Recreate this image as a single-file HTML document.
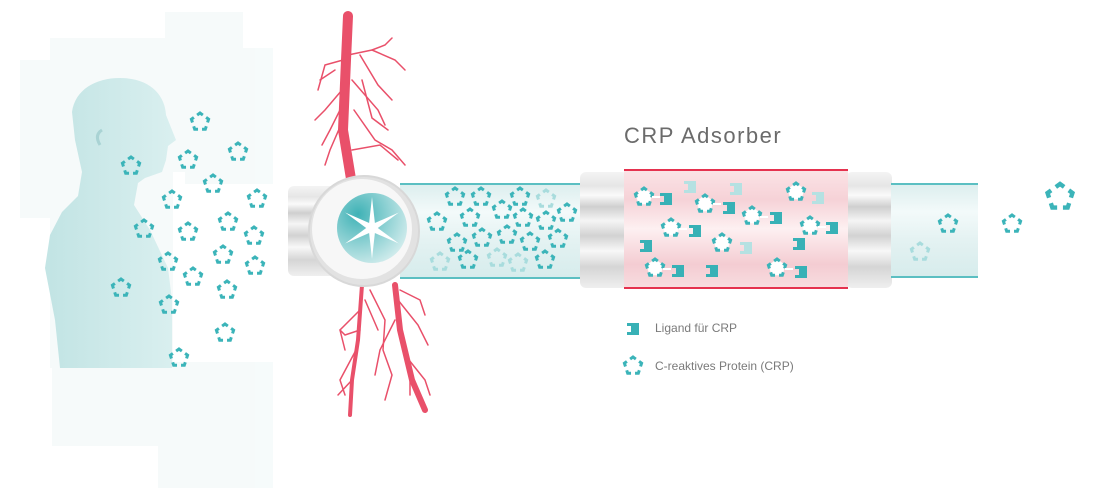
<!DOCTYPE html>
<html><head><meta charset="utf-8"><style>
html,body{margin:0;padding:0;background:#fff;}
svg{display:block}
text{font-family:"Liberation Sans",sans-serif}
</style></head><body>
<svg width="1096" height="500" viewBox="0 0 1096 500" xmlns="http://www.w3.org/2000/svg">
<defs>
<g id="p"><polygon points="0,-9 8.6,-2.8 5.3,7.3 -5.3,7.3 -8.6,-2.8" fill="none" stroke="#3bb4b9" stroke-width="3" stroke-dasharray="6.5 4" stroke-dashoffset="3"/></g>
<g id="pl"><polygon points="0,-9 8.6,-2.8 5.3,7.3 -5.3,7.3 -8.6,-2.8" fill="none" stroke="#a8dcdd" stroke-width="3" stroke-dasharray="6.5 4" stroke-dashoffset="3"/></g>
<g id="pw"><polygon points="0,-9 8.6,-2.8 5.3,7.3 -5.3,7.3 -8.6,-2.8" fill="#fff" stroke="#3bb4b9" stroke-width="3" stroke-dasharray="6.5 4" stroke-dashoffset="3"/></g>
<path id="lg" d="M0,0 h12 v12 h-12 v-3 h4 v-6 h-4z" fill="#38b1b6"/>
<path id="lgl" d="M0,0 h12 v12 h-12 v-3 h4 v-6 h-4z" fill="#b5e1e2"/>
<linearGradient id="body" x1="0" y1="0" x2="1" y2="0"><stop offset="0" stop-color="#b4dede"/><stop offset="1" stop-color="#d3eded"/></linearGradient>
<linearGradient id="grey" x1="0" y1="0" x2="0" y2="1"><stop offset="0" stop-color="#f4f4f4"/><stop offset=".12" stop-color="#e6e6e6"/><stop offset=".2" stop-color="#fafafa"/><stop offset=".3" stop-color="#cfcfcf"/><stop offset=".42" stop-color="#f5f5f5"/><stop offset=".55" stop-color="#d2d2d2"/><stop offset=".68" stop-color="#f8f8f8"/><stop offset=".82" stop-color="#d5d5d5"/><stop offset="1" stop-color="#efefef"/></linearGradient>
<linearGradient id="tube" x1="0" y1="0" x2="0" y2="1"><stop offset="0" stop-color="#dceeee"/><stop offset=".3" stop-color="#f3fafa"/><stop offset=".6" stop-color="#e4f2f2"/><stop offset="1" stop-color="#d6ecec"/></linearGradient>
<linearGradient id="pink" x1="0" y1="0" x2="0" y2="1"><stop offset="0" stop-color="#fbe3e6"/><stop offset=".25" stop-color="#f6d2d7"/><stop offset=".5" stop-color="#fdf0f1"/><stop offset=".8" stop-color="#f4ccd2"/><stop offset="1" stop-color="#f8dde0"/></linearGradient>
<radialGradient id="teal" cx=".3" cy=".3" r=".9"><stop offset="0" stop-color="#3fb2b6"/><stop offset="1" stop-color="#e6f4f4"/></radialGradient>
</defs>
<!-- faded rectangles -->
<g fill="#eef7f7" opacity=".5">
<rect x="20" y="60" width="80" height="158"/><rect x="50" y="38" width="123" height="330"/>
<rect x="165" y="12" width="78" height="160"/><rect x="185" y="48" width="88" height="136"/>
<rect x="52" y="362" width="153" height="84"/><rect x="98" y="362" width="150" height="52"/>
<rect x="158" y="362" width="115" height="126"/>
</g>
<!-- human -->
<path d="M120,78 C150,78 165,95 166,115 L176,140 L168,146 L166,160 L162,172 L145,178 L138,183 L134,205 L150,230 L168,268 L172,300 L172,368 L60,368 L55,320 L45,268 L50,235 L62,212 L78,196 L82,172 L75,140 L72,112 C75,90 95,78 120,78 Z" fill="url(#body)" opacity=".8"/>
<path d="M102,130 q-8,5 -2,15" fill="none" stroke="#a9d3d4" stroke-width="3"/>
<!-- vessels -->
<g fill="none" stroke="#e9506a" stroke-linecap="round">
<path d="M348,16 L346,60 L343,130 L352,185" stroke-width="10"/>
<path d="M395,285 L400,330 L412,380 L425,410" stroke-width="6"/>
<path d="M362,285 L358,340 L352,380 L350,415" stroke-width="4"/>
<g stroke-width="1.5">
<path d="M348,55 L372,50 L385,45 L392,38"/><path d="M372,50 L395,60 L405,70"/><path d="M360,55 L378,85 L392,100"/>
<path d="M352,80 L378,110 L385,125"/><path d="M354,110 L375,140 L392,150 L405,165"/><path d="M343,60 L325,65 L318,90"/>
<path d="M342,90 L325,110 L315,120"/><path d="M343,120 L330,150 L325,165"/><path d="M352,150 L380,145 L398,160"/>
<path d="M362,80 L372,118 L388,130"/><path d="M335,70 L320,80"/><path d="M345,100 L330,130 L322,145"/>
<path d="M398,300 L418,325 L428,345"/><path d="M395,320 L380,350 L375,375"/><path d="M405,355 L425,380 L430,395"/>
<path d="M360,310 L340,330 L345,350"/><path d="M356,350 L340,380 L345,395"/><path d="M365,300 L378,330"/>
<path d="M400,290 L420,300 L425,315"/><path d="M370,290 L385,320 L383,350 L392,375 L385,400"/><path d="M352,380 L338,395"/>
<path d="M360,330 L345,335 L340,330"/><path d="M410,370 L410,395"/>
</g></g>
<!-- left connector -->
<rect x="288" y="186" width="50" height="90" rx="6" fill="url(#grey)"/>
<!-- middle tube -->
<rect x="400" y="184" width="190" height="94" fill="url(#tube)"/>
<line x1="400" y1="184" x2="590" y2="184" stroke="#5bbfc2" stroke-width="2"/>
<line x1="400" y1="278" x2="590" y2="278" stroke="#5bbfc2" stroke-width="2"/>
<!-- circle -->
<circle cx="364" cy="231" r="55" fill="#e2e2e2" stroke="#d8d8d8" stroke-width="2"/>
<circle cx="362" cy="229" r="50" fill="#f7f7f7"/>
<circle cx="372" cy="228" r="35" fill="url(#teal)"/>
<g transform="translate(372,228)" fill="#fff">
<polygon points="0,-31 3,-4 0,0 -3,-4"/><polygon points="0,31 3,4 0,0 -3,4"/>
<polygon points="0,-31 3,-4 0,0 -3,-4" transform="rotate(60)"/><polygon points="0,-31 3,-4 0,0 -3,-4" transform="rotate(120)"/>
<polygon points="0,-31 3,-4 0,0 -3,-4" transform="rotate(240)"/><polygon points="0,-31 3,-4 0,0 -3,-4" transform="rotate(300)"/>
<circle r="5"/></g>
<!-- connectors adsorber -->
<rect x="580" y="172" width="48" height="116" rx="6" fill="url(#grey)"/>
<rect x="846" y="172" width="46" height="116" rx="6" fill="url(#grey)"/>
<rect x="624" y="170" width="224" height="118" fill="url(#pink)"/>
<line x1="624" y1="170" x2="848" y2="170" stroke="#e5324f" stroke-width="2"/>
<line x1="624" y1="288" x2="848" y2="288" stroke="#e5324f" stroke-width="2"/>
<!-- right tube -->
<rect x="891" y="184" width="87" height="93" fill="url(#tube)"/>
<line x1="891" y1="184" x2="978" y2="184" stroke="#5bbfc2" stroke-width="2"/>
<line x1="891" y1="277" x2="978" y2="277" stroke="#5bbfc2" stroke-width="2"/>
<text x="624" y="143" font-size="22" fill="#6b6b6b" letter-spacing="1.5">CRP Adsorber</text>
<!-- left pentagons -->
<g>
<use href="#p" x="200" y="122"/><use href="#p" x="238" y="152"/><use href="#p" x="131" y="166"/><use href="#p" x="188" y="160"/>
<use href="#p" x="213" y="184"/><use href="#p" x="172" y="200"/><use href="#p" x="257" y="199"/><use href="#p" x="144" y="229"/>
<use href="#p" x="188" y="232"/><use href="#p" x="228" y="222"/><use href="#p" x="254" y="236"/><use href="#p" x="223" y="255"/>
<use href="#p" x="168" y="262"/><use href="#p" x="255" y="266"/><use href="#p" x="193" y="277"/><use href="#p" x="121" y="288"/>
<use href="#p" x="227" y="290"/><use href="#p" x="169" y="305"/><use href="#p" x="225" y="333"/><use href="#p" x="179" y="358"/>
</g>
<!-- tube pentagons -->
<g>
<use href="#p" x="455" y="197"/><use href="#p" x="481" y="197"/><use href="#p" x="520" y="197"/><use href="#pl" x="546" y="199"/>
<use href="#p" x="437" y="222"/><use href="#p" x="470" y="218"/><use href="#p" x="502" y="210"/><use href="#p" x="523" y="218"/><use href="#p" x="546" y="221"/><use href="#p" x="567" y="213"/>
<use href="#p" x="457" y="243"/><use href="#p" x="482" y="238"/><use href="#p" x="507" y="235"/><use href="#p" x="530" y="242"/><use href="#p" x="558" y="239"/>
<use href="#pl" x="440" y="262"/><use href="#p" x="468" y="260"/><use href="#pl" x="497" y="258"/><use href="#pl" x="518" y="263"/><use href="#p" x="545" y="260"/>
</g>
<!-- adsorber contents -->
<g>
<use href="#lgl" x="684" y="181"/><use href="#lgl" x="730" y="183"/>
<use href="#pw" x="644" y="197"/><rect x="652" y="196" width="8" height="2" fill="#fff"/><use href="#lg" x="660" y="193"/>
<use href="#pw" x="705" y="204"/><rect x="713" y="203" width="8" height="2" fill="#fff"/><use href="#lg" x="723" y="202"/>
<use href="#pw" x="671" y="228"/><rect x="679" y="228" width="8" height="2" fill="#fff"/><use href="#lg" x="689" y="225"/>
<use href="#pw" x="752" y="216"/><rect x="760" y="216" width="8" height="2" fill="#fff"/><use href="#lg" x="770" y="212"/>
<use href="#pw" x="796" y="192"/><use href="#lgl" x="812" y="192"/>
<use href="#pw" x="810" y="226"/><rect x="818" y="226" width="8" height="2" fill="#fff"/><use href="#lg" x="826" y="222"/>
<use href="#pw" x="722" y="243"/><use href="#lgl" x="740" y="242"/>
<use href="#lg" x="640" y="240"/><use href="#lg" x="793" y="238"/>
<use href="#pw" x="655" y="268"/><rect x="663" y="268" width="8" height="2" fill="#fff"/><use href="#lg" x="672" y="265"/>
<use href="#lg" x="706" y="265"/>
<use href="#pw" x="777" y="268"/><rect x="785" y="268" width="8" height="2" fill="#fff"/><use href="#lg" x="795" y="266"/>
</g>
<!-- right pentagons -->
<use href="#pl" x="920" y="252"/><use href="#p" x="948" y="224"/><use href="#p" x="1012" y="224"/>
<use href="#p" transform="translate(1060,197) scale(1.45)"/>
<!-- legend -->
<use href="#lg" x="627" y="323"/>
<text x="655" y="332" font-size="12" fill="#7a7a7a">Ligand für CRP</text>
<use href="#p" x="633" y="366"/>
<text x="655" y="370" font-size="12" fill="#7a7a7a">C-reaktives Protein (CRP)</text>
</svg>
</body></html>
